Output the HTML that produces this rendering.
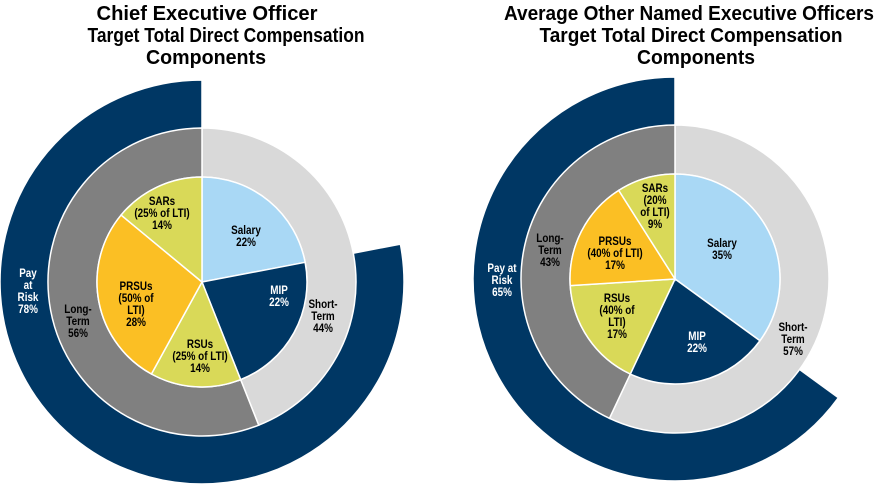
<!DOCTYPE html>
<html><head><meta charset="utf-8"><style>
html,body{margin:0;padding:0;background:#fff;}
svg{display:block;font-family:"Liberation Sans",Arial,sans-serif;}
</style></head><body>
<svg id="c" width="883" height="486" viewBox="0 0 883 486" xmlns="http://www.w3.org/2000/svg">
<g font-weight="bold" font-size="20" text-anchor="middle" fill="#000">
<text x="207" y="20" textLength="221" lengthAdjust="spacingAndGlyphs">Chief Executive Officer</text>
<text x="226" y="42" textLength="277" lengthAdjust="spacingAndGlyphs">Target Total Direct Compensation</text>
<text x="206" y="64" textLength="120" lengthAdjust="spacingAndGlyphs">Components</text>
</g>
<g font-weight="bold" font-size="20" text-anchor="middle" fill="#000">
<text x="689" y="20" textLength="370" lengthAdjust="spacingAndGlyphs">Average Other Named Executive Officers</text>
<text x="691" y="42" textLength="303" lengthAdjust="spacingAndGlyphs">Target Total Direct Compensation</text>
<text x="696" y="64" textLength="118" lengthAdjust="spacingAndGlyphs">Components</text>
</g>
</svg>
<script>
// CEO data (percent)
const ceoInnerLabels = ["Salary","MIP","RSUs","PRSUs","SARs"];
const ceoInnerValues = [22,22,14,28,14];
const ceoMiddleLabels = ["Short-Term","Long-Term"];
const ceoMiddleValues = [44,56];
const ceoOuterValues = [22,78]; // fixed pay (blank), pay at risk
// Other NEOs data
const neoInnerLabels = ["Salary","MIP","RSUs","PRSUs","SARs"];
const neoInnerValues = [35,22,17,17,9];
const neoMiddleLabels = ["Short-Term","Long-Term"];
const neoMiddleValues = [57,43];
const neoOuterValues = [35,65];

const innerColors = ["#a9d8f5","#003764","#d9d958","#fbbf24","#d9d958"];
const middleColors = ["#d9d9d9","#808080"];
const svg = document.getElementById('c');
const NS = "http://www.w3.org/2000/svg";

function pt(cx,cy,r,frac){const a=frac*2*Math.PI;return [cx+r*Math.sin(a),cy-r*Math.cos(a)];}
function arcPath(cx,cy,r0,r1,f0,f1){
  const large=(f1-f0)>0.5?1:0;
  const [x0,y0]=pt(cx,cy,r1,f0),[x1,y1]=pt(cx,cy,r1,f1);
  if(r0<=0){return `M${cx},${cy}L${x0},${y0}A${r1},${r1} 0 ${large} 1 ${x1},${y1}Z`;}
  const [x2,y2]=pt(cx,cy,r0,f1),[x3,y3]=pt(cx,cy,r0,f0);
  return `M${x0},${y0}A${r1},${r1} 0 ${large} 1 ${x1},${y1}L${x2},${y2}A${r0},${r0} 0 ${large} 0 ${x3},${y3}Z`;
}
function drawRing(cx,cy,r0,r1,values,colors,names,prefix,skip){
  const total=values.reduce((a,b)=>a+b,0);let acc=0;
  values.forEach((v,i)=>{
    const f0=acc/total,f1=(acc+v)/total;acc+=v;
    if(skip&&skip[i])return;
    const p=document.createElementNS(NS,'path');
    p.setAttribute('d',arcPath(cx,cy,r0,r1,f0,f1));
    p.setAttribute('fill',colors[i]);
    p.setAttribute('stroke','#fff');p.setAttribute('stroke-width','1.5');
    
    
    svg.appendChild(p);
  });
}
function label(x,y,lines,name,color){
  const t=document.createElementNS(NS,'text');
  t.setAttribute('transform',`translate(${x},${y}) scale(0.86,1)`);
  t.setAttribute('text-anchor','middle');t.setAttribute('font-size','11.5');
  t.setAttribute('font-weight','bold');t.setAttribute('fill',color||'#000');
  lines.forEach((l,i)=>{const s=document.createElementNS(NS,'tspan');s.setAttribute('x','0');s.setAttribute('y',String(i*12));s.textContent=l;t.appendChild(s);});
  
  
  svg.appendChild(t);
}
function drawChart(cx,cy,inner,mid,outer,iL,mL,prefix){
  drawRing(cx,cy,153,202,outer,["none","#003764"],["fixed","pay-at-risk"],prefix+'-outer',[true,false]);
  drawRing(cx,cy,105,154,mid,middleColors,mL,prefix+'-middle');
  drawRing(cx,cy,0,105,inner,innerColors,iL,prefix+'-inner');
}
drawChart(202,282,ceoInnerValues,ceoMiddleValues,ceoOuterValues,ceoInnerLabels,ceoMiddleLabels,'ceo');
drawChart(675,279,neoInnerValues,neoMiddleValues,neoOuterValues,neoInnerLabels,neoMiddleLabels,'neo');

const W='#fff';
label(246,234,["Salary",ceoInnerValues[0]+"%"],'ceo-salary-label');
label(279,294,["MIP",ceoInnerValues[1]+"%"],'ceo-mip-label',W);
label(200,348,["RSUs","(25% of LTI)",ceoInnerValues[2]+"%"],'ceo-rsus-label');
label(136,290,["PRSUs","(50% of","LTI)",ceoInnerValues[3]+"%"],'ceo-prsus-label');
label(162,205,["SARs","(25% of LTI)",ceoInnerValues[4]+"%"],'ceo-sars-label');
label(323,308,["Short-","Term",ceoMiddleValues[0]+"%"],'ceo-short-term-label');
label(78,313,["Long-","Term",ceoMiddleValues[1]+"%"],'ceo-long-term-label');
label(28,277,["Pay","at","Risk",ceoOuterValues[1]+"%"],'ceo-pay-at-risk-label',W);

label(722,247,["Salary",neoInnerValues[0]+"%"],'neo-salary-label');
label(697,340,["MIP",neoInnerValues[1]+"%"],'neo-mip-label',W);
label(617,302,["RSUs","(40% of","LTI)",neoInnerValues[2]+"%"],'neo-rsus-label');
label(615,245,["PRSUs","(40% of LTI)",neoInnerValues[3]+"%"],'neo-prsus-label');
label(655,192,["SARs","(20%","of LTI)",neoInnerValues[4]+"%"],'neo-sars-label');
label(793,331,["Short-","Term",neoMiddleValues[0]+"%"],'neo-short-term-label');
label(550,242,["Long-","Term",neoMiddleValues[1]+"%"],'neo-long-term-label');
label(502,272,["Pay at","Risk",neoOuterValues[1]+"%"],'neo-pay-at-risk-label',W);
</script>
</body></html>
